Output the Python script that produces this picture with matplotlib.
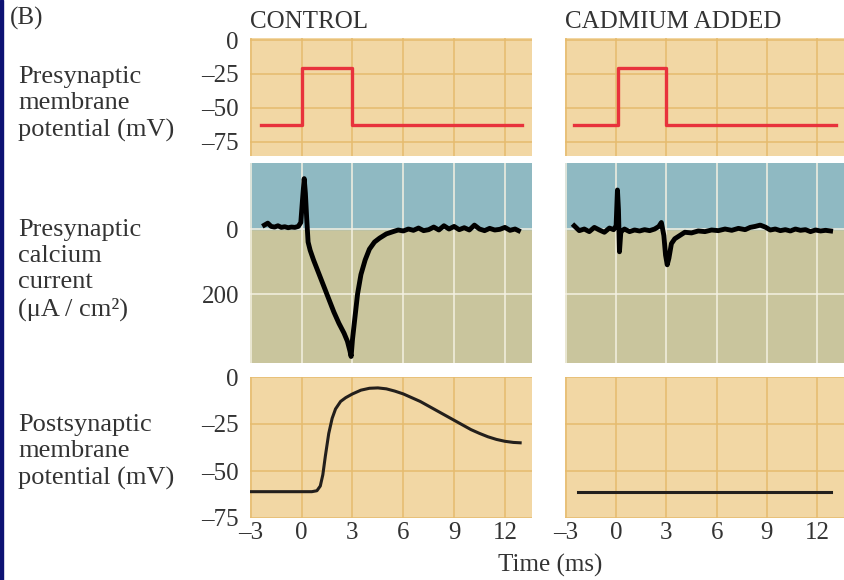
import numpy as np
import matplotlib
matplotlib.use("Agg")
import matplotlib.pyplot as plt
from matplotlib.patches import Rectangle

# presynaptic voltage step (mV)
pre_ctrl_t = [-2.4, 0, 0, 3, 3, 13.0]
pre_ctrl_v = [-63, -63, -21, -21, -63, -63]
pre_cd_t = [-2.5, 0.1, 0.1, 3, 3, 13.1]
pre_cd_v = [-63, -63, -21, -21, -63, -63]

# presynaptic calcium current (uA/cm2, inward plotted downward)
ca_ctrl_t = [-2.2, -2.0, -1.8, -1.6, -1.4, -1.2, -1.0, -0.8, -0.6, -0.4, -0.2,
             -0.05, 0.05, 0.15, 0.22, 0.3, 0.38, 0.5, 0.7, 1.0, 1.3, 1.6, 1.9,
             2.2, 2.5, 2.7, 2.85, 2.92, 3.0, 3.15, 3.3, 3.5, 3.75, 4.0, 4.3,
             4.6, 5.0, 5.4, 5.7, 6.0, 6.3, 6.6, 6.9, 7.2, 7.5, 7.8, 8.1, 8.4,
             8.7, 9.0, 9.3, 9.6, 9.9, 10.2, 10.5, 10.8, 11.1, 11.4, 11.7, 12.0,
             12.3, 12.6, 12.8]
ca_ctrl_v = [-12, -18, -8, -6, -10, -5, -7, -4, -6, -5, -8,
             -20, -90, -155, -110, -30, 40, 65, 95, 135, 175, 215, 255,
             290, 320, 345, 375, 392, 340, 270, 200, 140, 95, 62, 40,
             28, 15, 8, 3, 6, 0, 4, -3, 5, 2, -6, 3, -10, 0, -8,
             2, -4, 3, -12, 0, 5, -2, 3, 1, -5, 4, 0, 5]

ca_cd_t = [-2.5, -2.2, -1.9, -1.6, -1.3, -1.0, -0.7, -0.4, -0.15, 0.0, 0.08,
           0.14, 0.2, 0.28, 0.36, 0.5, 0.8, 1.1, 1.4, 1.7, 2.0, 2.3, 2.55, 2.7,
           2.85, 2.95, 3.05, 3.15, 3.3, 3.5, 3.8, 4.1, 4.5, 4.9, 5.3, 5.7, 6.1,
           6.5, 6.9, 7.3, 7.7, 8.0, 8.3, 8.6, 8.9, 9.2, 9.5, 9.8, 10.1, 10.4,
           10.7, 11.0, 11.3, 11.6, 11.9, 12.2, 12.5, 12.8]
ca_cd_v = [-10, 5, 0, 8, -5, 3, 10, -3, 2, -10, -120,
           -60, 70, 10, 5, 0, 8, 3, 6, 2, 5, 0, -8, -20,
           20, 80, 110, 90, 45, 30, 20, 10, 12, 6, 8, 3, 5,
           0, 4, -2, 2, -5, -8, -12, -6, 3, 0, 5, 2, 6,
           0, 4, 2, 8, 3, 6, 4, 6]

# postsynaptic membrane potential (mV)
post_ctrl_t = [-3, -1, 0, 0.6, 0.9, 1.1, 1.25, 1.4, 1.6, 1.8, 2.0, 2.3, 2.6,
               3.0, 3.5, 4.0, 4.5, 5.0, 5.5, 6.0, 6.5, 7.0, 7.5, 8.0, 8.5,
               9.0, 9.5, 10.0, 10.5, 11.0, 11.5, 12.0, 12.5, 12.9]
post_ctrl_v = [-61, -61, -61, -61, -60.5, -58, -52, -42, -30, -22, -17, -13,
               -11, -9, -7, -6, -5.8, -6.3, -7.5, -9, -11, -13, -15.5, -18,
               -20.5, -23, -25.5, -28, -30, -31.8, -33.2, -34.2, -34.8, -35]
post_cd_t = [-2.3, 12.8]
post_cd_v = [-61, -61]

x_ticks = [-3, 0, 3, 6, 9, 12]
x_tick_labels = ["\u20133", "0", "3", "6", "9", "12"]
mv_ticks = [0, -25, -50, -75]
mv_tick_labels = ["0", "\u201325", "\u201350", "\u201375"]
row_labels = ["Presynaptic\nmembrane\npotential (mV)",
              "Presynaptic\ncalcium\ncurrent\n(\u03bcA / cm\u00b2)",
              "Postsynaptic\nmembrane\npotential (mV)"]
col_titles = ["CONTROL", "CADMIUM ADDED"]

TAN = "#f2d7a4"
TAN_GRID = "#e6bb6e"
BLUE = "#8fb9c2"
OLIVE = "#c9c59d"
TXT = "#333333"

W, H = 844, 580


def px_axes(fig, x0, y0, x1, y1):
    return fig.add_axes([x0 / W, 1 - y1 / H, (x1 - x0) / W, (y1 - y0) / H])


def style(ax, face, grid_col, yticks, ylim, show_y, show_x):
    ax.set_facecolor(face)
    for s in ax.spines.values():
        s.set_visible(False)
    ax.set_xlim(-3.05, 13.6)
    ax.set_ylim(*ylim)
    ax.set_xticks(x_ticks)
    ax.set_yticks(yticks)
    ax.grid(True, color=grid_col, linewidth=1.1)
    ax.set_axisbelow(True)
    ax.tick_params(length=0, labelsize=18, colors=TXT)
    ax.tick_params(axis="y", pad=8)
    ax.tick_params(axis="x", pad=3)
    if not show_y:
        ax.set_yticklabels([])
    if show_x:
        ax.set_xticklabels(x_tick_labels)
    else:
        ax.set_xticklabels([])


def main():
    plt.rcParams["font.family"] = ["Liberation Serif", "DejaVu Serif"]
    fig = plt.figure(figsize=(W / 100, H / 100), dpi=100)
    fig.patch.set_facecolor("white")

    cols = [(250, 532), (565, 844)]
    rows = [(38, 156), (163, 363), (377, 518)]
    pre = [(pre_ctrl_t, pre_ctrl_v), (pre_cd_t, pre_cd_v)]
    ca = [(ca_ctrl_t, ca_ctrl_v), (ca_cd_t, ca_cd_v)]
    post = [(post_ctrl_t, post_ctrl_v), (post_cd_t, post_cd_v)]

    for c, (x0, x1) in enumerate(cols):
        first = c == 0
        ax = px_axes(fig, x0, rows[0][0], x1, rows[0][1])
        style(ax, TAN, TAN_GRID, mv_ticks, (-85.7, 1.5), first, False)
        if first:
            ax.set_yticklabels(mv_tick_labels)
        ax.plot(pre[c][0], pre[c][1], color="#e8323c", lw=2.4)
        ax.text(0, 1.04, col_titles[c], transform=ax.transAxes, fontsize=18,
                color=TXT, ha="left", va="bottom")

        ax = px_axes(fig, x0, rows[1][0], x1, rows[1][1])
        style(ax, OLIVE, "#f4f1e2", [0, 200], (412, -203), first, False)
        ax.axhspan(-300, 0, color=BLUE, zorder=0)
        ax.plot(ca[c][0], ca[c][1], color="black", lw=3.5, solid_joinstyle="round")

        ax = px_axes(fig, x0, rows[2][0], x1, rows[2][1])
        style(ax, TAN, TAN_GRID, mv_ticks, (-75, 0), first, True)
        if first:
            ax.set_yticklabels(mv_tick_labels)
        ax.plot(post[c][0], post[c][1], color="#231f1c", lw=2.2)

    fig.text(10 / W, 1 - 18 / H, "(B)", fontsize=18, color=TXT, va="center")
    for lab, yc in zip(row_labels, [104, 270, 452]):
        fig.text(18 / W, 1 - yc / H, lab, fontsize=19, color=TXT,
                 va="center", ha="left", linespacing=1.24)
    fig.text(550 / W, 1 - 565 / H, "Time (ms)", fontsize=18, color=TXT,
             ha="center", va="center")

    fig.patches.append(Rectangle((0, 0), 3 / W, 1, transform=fig.transFigure,
                                 color="#0d1273", zorder=10))
    fig.savefig("out.png", dpi=100)


if __name__ == "__main__":
    main()
